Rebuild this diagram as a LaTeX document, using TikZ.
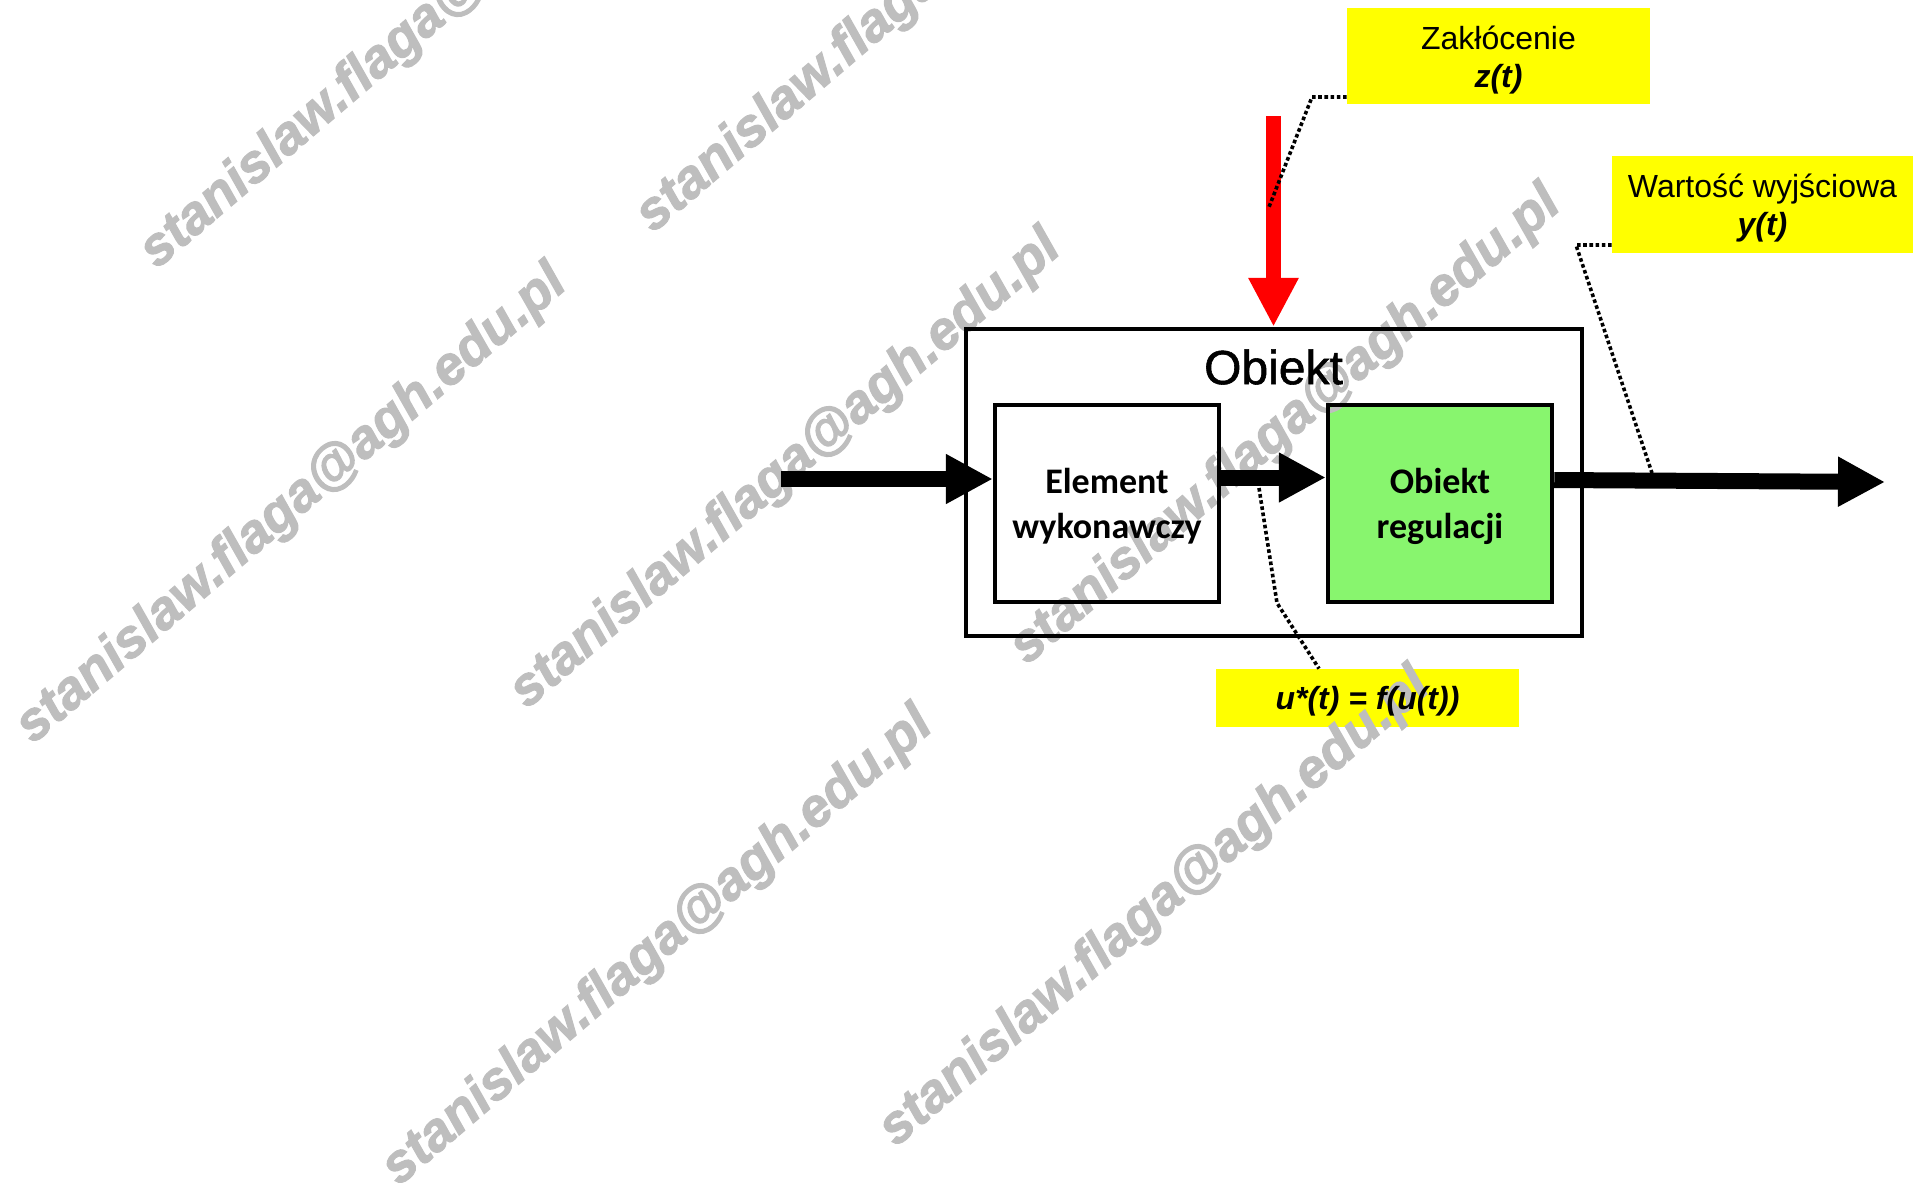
\documentclass[tikz,border=0pt]{standalone}
\usepackage{fontspec}
\setmainfont{Liberation Sans}
\newfontfamily\carlitofont{Carlito}
\newfontfamily\titlefont[FakeBold=1.2]{Liberation Sans}
\newfontfamily\stampfont{Liberation Sans}[BoldItalicFeatures={FakeBold=2}]
\usetikzlibrary{arrows.meta,calc}
\definecolor{calloutyellow}{RGB}{255,255,0}
\definecolor{plantgreen}{RGB}{136,245,110}
\definecolor{markgray}{RGB}{190,190,190}

\begin{document}
\begin{tikzpicture}[x=0.5pt,y=-0.5pt,
  frame/.style={draw=black, line width=2.25pt, inner sep=0pt,
    minimum width=308pt, minimum height=153.5pt},
  blockbox/.style={line width=2.25pt, inner sep=0pt,
    minimum width=112pt, minimum height=98.5pt},
  blocktext/.style={align=center, inner sep=0pt,
    font=\carlitofont\bfseries\fontsize{18}{22.5}\selectfont},
  callout/.style={fill=calloutyellow, inner sep=0pt,
    minimum width=151.5pt, minimum height=48pt},
  callouttext/.style={align=center, inner sep=0pt,
    font=\fontsize{16}{19}\selectfont},
  signal/.style={line width=8pt, -{Triangle[length=23.5pt,width=23.5pt]}},
  disturbance/.style={draw=red, line width=7.5pt,
    -{Triangle[length=24.5pt,width=23.5pt]}},
  leader/.style={line width=1.8pt, dash pattern=on 1.8pt off 1.3pt},
  stamp/.style={text=markgray, rotate=40.5,
    font=\stampfont\bfseries\itshape\fontsize{27}{31}\selectfont}
]
\useasboundingbox (0,0) rectangle (1913,1185);

% coloured fills lie underneath the author stamps
\node[callout] (zlab) at (1498.5,56) {};
\node[callout, minimum width=150.5pt, minimum height=48.5pt] (ylab) at (1762.5,204.5) {};
\node[callout, minimum height=29pt] (ulab) at (1367.5,698) {};
\node[blockbox, fill=plantgreen] (regfill) at (1440,503.5) {};

% author stamps
\node[stamp] (s1) at (416,30) {stanislaw.flaga@agh.edu.pl};
\node[stamp] (s2) at (912,-6) {stanislaw.flaga@agh.edu.pl};
\node[stamp] (s3) at (292,505) {stanislaw.flaga@agh.edu.pl};
\node[stamp] (s4) at (786,470) {stanislaw.flaga@agh.edu.pl};
\node[stamp] (s5) at (1286,426) {stanislaw.flaga@agh.edu.pl};
\node[stamp] (s6) at (658,947) {stanislaw.flaga@agh.edu.pl};
\node[stamp] (s7) at (1155,908) {stanislaw.flaga@agh.edu.pl};

% plant: actuator followed by the controlled process
\node[frame] (plant) at (1274,482.5) {};
\node[font=\titlefont\fontsize{24}{28}\selectfont] (title) at (1273.5,367) {Obiekt};
\node[blockbox, draw=black] (elem) at (1107,503.5) {};
\node[blockbox, draw=black] (reg) at (1440,503.5) {};
\node[blocktext] (elemtext) at ($(elem.center)+(0,3)$) {Element\\wykonawczy};
\node[blocktext] (regtext) at ($(reg.center)+(0,3)$) {Obiekt\\regulacji};

% signal paths
\coordinate (uin) at (781,479);
\coordinate (yout) at (1885,482);
\coordinate (zsrc) at (1273.5,116);
\draw[signal] (uin) -- (uin -| elem.west);
\draw[signal] ($(elem.east)+(0,-26)$) -- ($(reg.west)+(0,-26)$);
\draw[signal] ($(reg.east)+(0,-23.5)$) -- (yout);
\draw[disturbance] (zsrc) -- (zsrc |- plant.north);

% callout texts
\node[callouttext] (ztext) at ($(zlab.center)+(0,4)$) {Zakłócenie\\\textbf{\textit{z(t)}}};
\node[callouttext] (ytext) at ($(ylab.center)+(0,4)$) {Wartość wyjściowa\\\textbf{\textit{y(t)}}};
\node[callouttext] (utext) at ($(ulab.center)+(0,3.5)$) {\textbf{\textit{u*(t) = f(u(t))}}};

% leader lines
\coordinate (zbend) at (1312,97);
\coordinate (zend) at (1269,207);
\draw[leader] (zlab.west |- zbend) -- (zbend) -- (zend);

\coordinate (ybend) at (1576,245);
\coordinate (yend) at (1652,473);
\draw[leader] (ylab.west |- ybend) -- (ybend) -- (yend);

\coordinate (ustart) at (1259,488);
\coordinate (ubend) at (1277,603);
\draw[leader] (ustart) -- (ubend) -- (ulab.north -| 1319,0);
\end{tikzpicture}
\end{document}
